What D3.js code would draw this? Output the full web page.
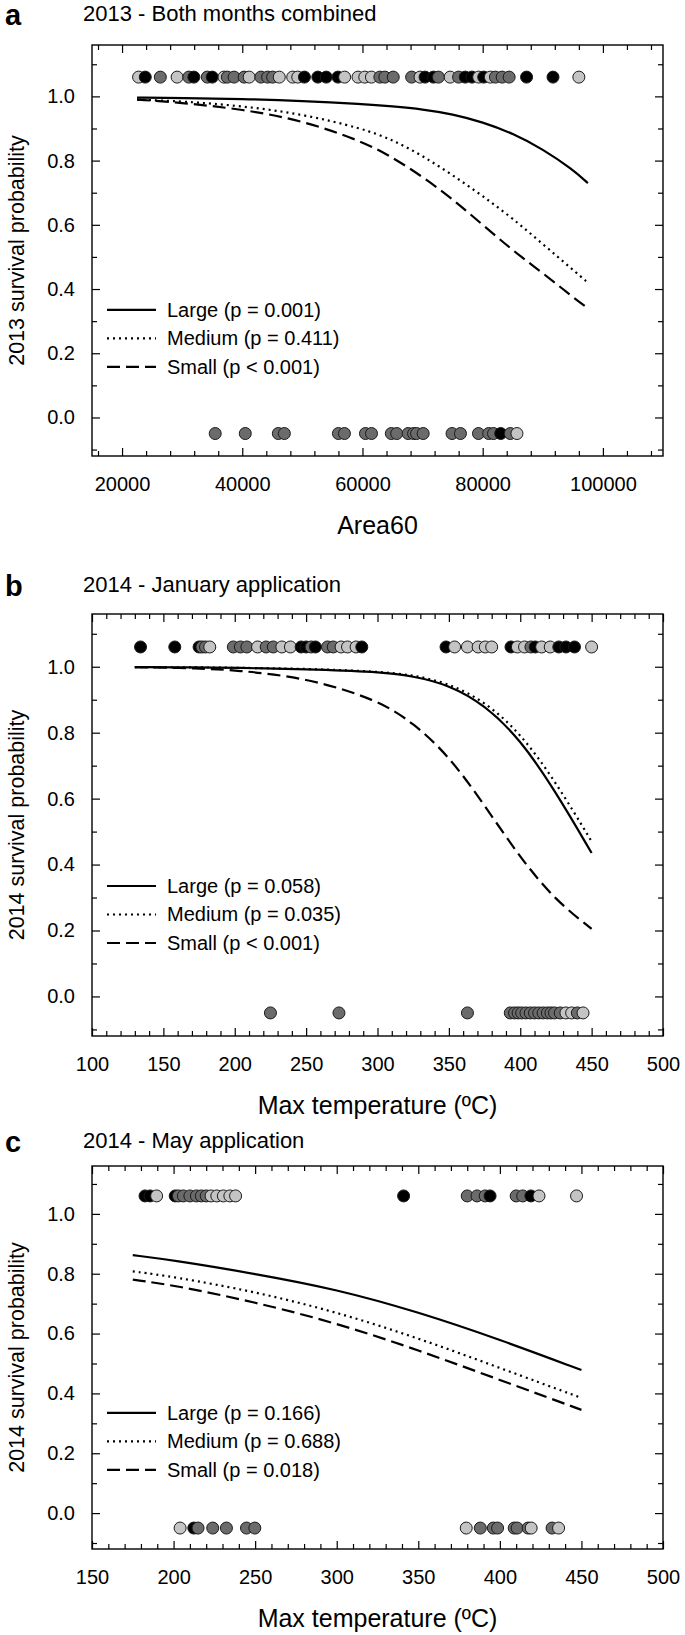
<!DOCTYPE html>
<html><head><meta charset="utf-8">
<script src="https://cdn.jsdelivr.net/npm/d3@7"></script>
<style>body{margin:0;background:#fff}svg{display:block}text{font-family:"Liberation Sans",Arial,sans-serif;fill:#000}</style>
</head><body><div id="chart"></div>
<script>
// ---------- data ----------
// Panel a: 2013
const aTopX = [22750,23860,26370,29160,31110,31950,34180,35010,36960,37520,38640,40310,41150,43100,44210,45050,46160,48390,49230,50340,52570,53970,55920,57030,59260,60380,61490,62890,63720,65120,68180,69580,70410,71810,72640,74590,75990,77100,78220,79330,80170,81280,82120,83240,84400,87300,91700,96000];
const aTopC = ["L","K","D","L","D","K","D","K","L","D","D","D","L","D","D","D","L","L","L","K","K","K","K","L","L","L","L","D","D","D","D","L","K","K","D","L","D","K","K","L","K","L","D","D","D","K","K","L"];
const aBotX = [35500,40500,46000,47000,56000,57000,60500,61500,64800,65700,67600,68500,69000,70100,74900,76300,79300,81000,81800,83000,84600,85700];
const aBotC = ["D","D","D","D","D","D","D","D","D","D","D","D","D","D","D","D","D","D","D","K","D","L"];
const aCurveX = [22500,30000,40000,50000,60000,65000,70000,75000,80000,85000,90000,95000,97500];
const aLarge  = [0.996,0.995,0.992,0.986,0.976,0.969,0.96,0.945,0.92,0.885,0.836,0.772,0.73];
const aMedium = [0.99,0.985,0.97,0.945,0.9,0.865,0.815,0.755,0.69,0.62,0.54,0.46,0.42];
const aSmall  = [0.99,0.98,0.96,0.925,0.86,0.81,0.75,0.68,0.6,0.52,0.45,0.375,0.34];
const aLegend = ["Large (p = 0.001)","Medium (p = 0.411)","Small (p < 0.001)"];

// Panel b: 2014 January
const bTopX = [134,158,175,177,179.5,182.5,199,204,208.5,216,222,227,233,239,246.5,250,253.5,256.5,265,269,274.5,279,285,289,348,354,363,370.5,375.5,380,393.5,398,403,407.5,410.5,415,421,427,432,438,450];
const bTopC = ["K","K","K","D","D","L","D","D","D","L","D","D","L","L","K","K","D","K","D","D","L","L","L","K","K","L","L","L","L","L","K","L","L","D","K","L","L","K","K","K","L"];
const bBotX = [225,273,363,393,396,398.5,401,404,407,410,413,416,419,421.5,424,428,432,436,440,444];
const bBotC = ["D","D","D","D","D","D","D","D","D","D","D","D","D","D","D","D","L","L","D","L"];
const bCurveX = [130,175,200,250,300,325,350,375,400,425,450];
const bLarge  = [0.999,0.998,0.997,0.993,0.985,0.972,0.945,0.885,0.78,0.62,0.435];
const bMedium = [0.999,0.998,0.997,0.994,0.986,0.975,0.95,0.895,0.80,0.65,0.47];
const bSmall  = [0.999,0.995,0.99,0.967,0.9,0.83,0.73,0.58,0.42,0.29,0.205];
const bLegend = ["Large (p = 0.058)","Medium (p = 0.035)","Small (p < 0.001)"];

// Panel c: 2014 May
const cTopX = [182.5,185.6,189.6,201,203,206,210,214,217,220,223,226.5,230.5,234.5,238,341,380,386,391,394,410,414,419,424,447];
const cTopC = ["K","K","L","K","D","D","D","D","D","D","L","L","L","L","L","K","D","D","D","K","D","D","K","L","L"];
const cBotX = [204,212.4,215,224,232.4,244.7,249.8,379.4,388,396,398.6,408.8,410.6,417.3,419.2,432,436];
const cBotC = ["L","K","D","D","D","D","D","L","D","D","D","D","D","D","L","D","L"];
const cCurveX = [175,200,250,300,350,400,450];
const cLarge  = [0.862,0.845,0.80,0.748,0.672,0.58,0.478];
const cMedium = [0.808,0.79,0.74,0.672,0.585,0.485,0.385];
const cSmall  = [0.78,0.762,0.705,0.635,0.545,0.445,0.345];
const cLegend = ["Large (p = 0.166)","Medium (p = 0.688)","Small (p = 0.018)"];

const yMajor = [0,0.2,0.4,0.6,0.8,1.0];
const yMinor = [-0.1,0.1,0.3,0.5,0.7,0.9,1.1];

// ---------- drawing ----------
const W = 685, H = 1635;
const svg = d3.select("#chart").append("svg").attr("width", W).attr("height", H);
const fillOf = {L:"#c4c4c4", D:"#6b6b6b", K:"#000000"};
const FF = '"Liberation Sans",Arial,sans-serif';

const panels = [
  {letter:"a", title:"2013 - Both months combined", xlabel:"Area60", ylabel:"2013 survival probability",
   xd:[15000,110000], xMajor:d3.range(20000,100001,20000), xMinor:d3.range(16000,110000,4000), fmt:d3.format("d"),
   topX:aTopX, topC:aTopC, botX:aBotX, botC:aBotC, cx:aCurveX, large:aLarge, medium:aMedium, small:aSmall, legend:aLegend,
   titleY:21, top:45, bottom:456},
  {letter:"b", title:"2014 - January application", xlabel:"Max temperature (ºC)", ylabel:"2014 survival probability",
   xd:[100,500], xMajor:d3.range(100,501,50), xMinor:d3.range(100,501,10), fmt:d3.format("d"),
   topX:bTopX, topC:bTopC, botX:bBotX, botC:bBotC, cx:bCurveX, large:bLarge, medium:bMedium, small:bSmall, legend:bLegend,
   titleY:592, top:614, bottom:1036},
  {letter:"c", title:"2014 - May application", xlabel:"Max temperature (ºC)", ylabel:"2014 survival probability",
   xd:[150,500], xMajor:d3.range(150,501,50), xMinor:d3.range(150,501,10), fmt:d3.format("d"),
   topX:cTopX, topC:cTopC, botX:cBotX, botC:cBotC, cx:cCurveX, large:cLarge, medium:cMedium, small:cSmall, legend:cLegend,
   titleY:1148, top:1166, bottom:1549}
];

const L = 92, R = 663;
const styles = {
  large:{dash:null, w:2.2},
  medium:{dash:"2,4", w:2.2},
  small:{dash:"13,6", w:2.2}
};

panels.forEach(p => {
  const x = d3.scaleLinear().domain(p.xd).range([L, R]);
  const y = d3.scaleLinear().domain([-0.12, 1.16]).range([p.bottom, p.top]);
  const g = svg.append("g");

  // titles
  g.append("text").attr("x", 5).attr("y", p.titleY + 4).attr("font-size", 29).attr("font-weight", "bold").text(p.letter);
  g.append("text").attr("x", 83).attr("y", p.titleY).attr("font-size", 22).text(p.title);

  // frame
  g.append("rect").attr("x", L).attr("y", p.top).attr("width", R - L).attr("height", p.bottom - p.top)
    .attr("fill", "none").attr("stroke", "#000").attr("stroke-width", 1.4);

  const minors = p.xMinor.filter(v => !p.xMajor.includes(v));
  // x axis ticks (inward) bottom & top
  const xb = d3.axisBottom(x).tickValues(p.xMajor).tickFormat(p.fmt).tickSizeInner(-8).tickSizeOuter(0).tickPadding(21);
  const gxb = g.append("g").attr("transform", `translate(0,${p.bottom})`).call(xb);
  gxb.select(".domain").remove();
  gxb.selectAll("text").attr("font-size", 20).style("font-family", FF);
  g.append("g").attr("transform", `translate(0,${p.bottom})`)
    .call(d3.axisBottom(x).tickValues(minors).tickFormat("").tickSizeInner(-5).tickSizeOuter(0)).select(".domain").remove();
  g.append("g").attr("transform", `translate(0,${p.top})`)
    .call(d3.axisTop(x).tickValues(p.xMajor).tickFormat("").tickSizeInner(-8).tickSizeOuter(0)).select(".domain").remove();
  g.append("g").attr("transform", `translate(0,${p.top})`)
    .call(d3.axisTop(x).tickValues(minors).tickFormat("").tickSizeInner(-5).tickSizeOuter(0)).select(".domain").remove();

  // y axis ticks (inward) left & right
  const yl = d3.axisLeft(y).tickValues(yMajor).tickFormat(d3.format(".1f")).tickSizeInner(-8).tickSizeOuter(0).tickPadding(17);
  const gyl = g.append("g").attr("transform", `translate(${L},0)`).call(yl);
  gyl.select(".domain").remove();
  gyl.selectAll("text").attr("font-size", 20).style("font-family", FF);
  g.append("g").attr("transform", `translate(${L},0)`)
    .call(d3.axisLeft(y).tickValues(yMinor).tickFormat("").tickSizeInner(-5).tickSizeOuter(0)).select(".domain").remove();
  g.append("g").attr("transform", `translate(${R},0)`)
    .call(d3.axisRight(y).tickValues(yMajor).tickFormat("").tickSizeInner(-8).tickSizeOuter(0)).select(".domain").remove();
  g.append("g").attr("transform", `translate(${R},0)`)
    .call(d3.axisRight(y).tickValues(yMinor).tickFormat("").tickSizeInner(-5).tickSizeOuter(0)).select(".domain").remove();
  g.selectAll(".tick line").attr("stroke", "#000").attr("stroke-width", 1.2);

  // axis labels
  g.append("text").attr("x", (L + R) / 2).attr("y", p.bottom + 78).attr("text-anchor", "middle").attr("font-size", 25).text(p.xlabel);
  g.append("text").attr("transform", `translate(24,${(p.top + p.bottom) / 2}) rotate(-90)`).attr("text-anchor", "middle")
    .attr("font-size", 21.5).text(p.ylabel);

  // curves
  const line = d3.line().x(d => x(d[0])).y(d => y(d[1])).curve(d3.curveBasis);
  [["large", p.large], ["medium", p.medium], ["small", p.small]].forEach(([k, vals]) => {
    g.append("path").datum(p.cx.map((v, i) => [v, vals[i]]))
      .attr("d", line).attr("fill", "none").attr("stroke", "#000")
      .attr("stroke-width", styles[k].w).attr("stroke-dasharray", styles[k].dash);
  });

  // points
  const pts = p.topX.map((v, i) => ({x: v, y: 1.06, c: p.topC[i]}))
    .concat(p.botX.map((v, i) => ({x: v, y: -0.05, c: p.botC[i]})));
  g.selectAll("circle.pt").data(pts).enter().append("circle")
    .attr("cx", d => x(d.x)).attr("cy", d => y(d.y)).attr("r", 6)
    .attr("fill", d => fillOf[d.c]).attr("stroke", "#1a1a1a").attr("stroke-width", 1);

  // legend
  const keys = ["large", "medium", "small"];
  p.legend.forEach((t, i) => {
    const yy = y(0.335) + i * 28.5;
    g.append("line").attr("x1", 107).attr("x2", 156).attr("y1", yy).attr("y2", yy)
      .attr("stroke", "#000").attr("stroke-width", styles[keys[i]].w).attr("stroke-dasharray", styles[keys[i]].dash);
    g.append("text").attr("x", 167).attr("y", yy + 7).attr("font-size", 20).text(t);
  });
});
</script></body></html>
